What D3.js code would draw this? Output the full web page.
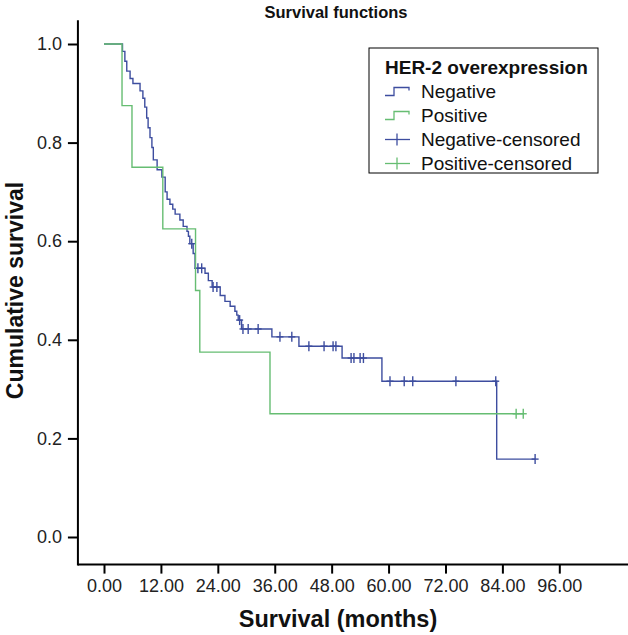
<!DOCTYPE html>
<html>
<head>
<meta charset="utf-8">
<script src="https://cdn.jsdelivr.net/npm/d3@7/dist/d3.min.js"></script>
<style>
  html, body { margin: 0; padding: 0; background: #fff; }
  svg { display: block; font-family: "Liberation Sans", Arial, sans-serif; }
</style>
</head>
<body>
<svg id="chart" width="628" height="635"></svg>
<script>
// ---- data ----
const xTicks = [0, 12, 24, 36, 48, 60, 72, 84, 96];
const yTicks = [0, 0.2, 0.4, 0.6, 0.8, 1.0];

// Negative group: event times (months) and survival after each event
const negTimes = [3.9, 4.4, 4.8, 5.5, 6.1, 7.6, 8.2, 8.6, 9.0, 9.3, 9.7, 10.1, 10.4, 11.2,
  12.2, 12.9, 13.3, 13.9, 14.5, 15.0, 16.0, 16.7, 17.5, 17.8, 18.1, 18.8, 19.2, 21.3, 22.0,
  22.8, 24.5, 25.5, 26.6, 27.6, 28.0, 28.3, 29.0, 35.4, 41.1, 50.2, 58.6, 82.8];
const negSurv = [0.985, 0.965, 0.945, 0.93, 0.92, 0.905, 0.89, 0.872, 0.85, 0.83, 0.81, 0.79, 0.765, 0.745,
  0.73, 0.70, 0.685, 0.675, 0.665, 0.655, 0.643, 0.63, 0.62, 0.61, 0.595, 0.575, 0.545, 0.535, 0.52,
  0.507, 0.49, 0.478, 0.468, 0.458, 0.45, 0.44, 0.422, 0.406, 0.387, 0.363, 0.316, 0.158];
const negCensored = [18.5, 19.8, 20.6, 23.0, 23.8, 28.6, 29.3, 30.4, 32.5, 37.1, 39.6,
  43.2, 46.4, 48.3, 48.9, 52.1, 52.7, 54.0, 54.7, 60.3, 63.3, 65.1, 74.2, 82.6, 90.9];

// Positive group
const posTimes = [3.8, 5.9, 12.4, 19.3, 20.2, 35.0];
const posSurv = [0.875, 0.75, 0.625, 0.5, 0.375, 0.25];
const posCensored = [86.9, 88.4];

const legendLabels = ["Negative", "Positive", "Negative-censored", "Positive-censored"];
const colors = { neg: "#3d4d9f", pos: "#66bd72" };

// ---- scales ----
const svg = d3.select("#chart");
const x = d3.scaleLinear().domain([0, 96]).range([104, 559.3]);
const y = d3.scaleLinear().domain([0, 1]).range([537, 44]);
const xMin = -5.5, xMax = 110.5, yMin = -0.056, yMax = 1.048;

function survAt(times, surv, t) {
  let s = 1;
  for (let i = 0; i < times.length; i++) if (times[i] <= t) s = surv[i];
  return s;
}
function stepPoints(times, surv, censored) {
  const pts = [[0, 1]];
  let s = 1;
  times.forEach((t, i) => { pts.push([t, s]); s = surv[i]; pts.push([t, s]); });
  const end = Math.max(times[times.length - 1], d3.max(censored));
  pts.push([end, s]);
  return pts;
}

const line = d3.line().x(d => x(d[0])).y(d => y(d[1]));

// ---- axes ----
const xAxisY = y(yMin);
const yAxisX = x(xMin);
const xAxis = d3.axisBottom(x).tickValues(xTicks).tickFormat(d3.format(".2f")).tickSize(9).tickPadding(6);
const gx = svg.append("g").attr("transform", `translate(0,${xAxisY})`).call(xAxis);
gx.select(".domain").remove();
gx.append("line").attr("x1", yAxisX).attr("x2", x(xMax)).attr("y1", 0).attr("y2", 0)
  .attr("stroke", "#000").attr("stroke-width", 2);
gx.selectAll(".tick line").attr("stroke", "#000").attr("stroke-width", 2);
gx.selectAll(".tick text").attr("font-size", 18).attr("fill", "#222")
  .attr("font-family", "Liberation Sans, Arial, sans-serif");

const yAxis = d3.axisLeft(y).tickValues(yTicks).tickFormat(d3.format(".1f")).tickSize(10).tickPadding(6);
const gy = svg.append("g").attr("transform", `translate(${yAxisX},0)`).call(yAxis);
gy.select(".domain").remove();
gy.append("line").attr("x1", 0).attr("x2", 0).attr("y1", y(yMax)).attr("y2", xAxisY + 1)
  .attr("stroke", "#000").attr("stroke-width", 2);
gy.selectAll(".tick line").attr("stroke", "#000").attr("stroke-width", 2);
gy.selectAll(".tick text").attr("font-size", 18).attr("fill", "#222")
  .attr("font-family", "Liberation Sans, Arial, sans-serif");

// ---- curves ----
function drawGroup(times, surv, censored, color) {
  const g = svg.append("g");
  g.append("path").datum(stepPoints(times, surv, censored))
    .attr("d", line).attr("fill", "none").attr("stroke", color).attr("stroke-width", 1.4);
  censored.forEach(t => {
    const cx = x(t), cy = y(survAt(times, surv, t));
    g.append("line").attr("x1", cx).attr("x2", cx).attr("y1", cy - 5).attr("y2", cy + 5)
      .attr("stroke", color).attr("stroke-width", 1.4);
    g.append("line").attr("x1", cx - 3.5).attr("x2", cx + 3.5).attr("y1", cy).attr("y2", cy)
      .attr("stroke", color).attr("stroke-width", 1.4);
  });
}
drawGroup(negTimes, negSurv, negCensored, colors.neg);
drawGroup(posTimes, posSurv, posCensored, colors.pos);

// ---- titles ----
svg.append("text").attr("x", 336).attr("y", 18).attr("text-anchor", "middle")
  .attr("font-size", 16.5).attr("font-weight", "bold").attr("fill", "#111").text("Survival functions");
svg.append("text").attr("x", 338).attr("y", 627).attr("text-anchor", "middle")
  .attr("font-size", 23.5).attr("font-weight", "bold").attr("fill", "#111").text("Survival (months)");
svg.append("text").attr("transform", `translate(23,${y(0.5)}) rotate(-90)`).attr("text-anchor", "middle")
  .attr("font-size", 23).attr("font-weight", "bold").attr("fill", "#111").text("Cumulative survival");

// ---- legend ----
const lg = svg.append("g");
const lx = 369, ly = 48, lw = 229, rowH = 24;
lg.append("rect").attr("x", lx).attr("y", ly).attr("width", lw).attr("height", 125)
  .attr("fill", "#fff").attr("stroke", "#000").attr("stroke-width", 1);
lg.append("text").attr("x", 385).attr("y", 73.5).attr("font-size", 19).attr("font-weight", "bold")
  .attr("fill", "#111").text("HER-2 overexpression");
const legendColors = [colors.neg, colors.pos, colors.neg, colors.pos];
legendLabels.forEach((lab, i) => {
  const cy = 91.5 + i * rowH;
  if (i < 2) {
    lg.append("path").attr("d", `M385,${cy + 4}H394V${cy - 4}H409V${cy - 1}`)
      .attr("fill", "none").attr("stroke", legendColors[i]).attr("stroke-width", 1.3);
  } else {
    lg.append("line").attr("x1", 385).attr("x2", 410).attr("y1", cy).attr("y2", cy)
      .attr("stroke", legendColors[i]).attr("stroke-width", 1.3);
    lg.append("line").attr("x1", 397).attr("x2", 397).attr("y1", cy - 6).attr("y2", cy + 6)
      .attr("stroke", legendColors[i]).attr("stroke-width", 1.3);
  }
  lg.append("text").attr("x", 421).attr("y", cy + 6.5).attr("font-size", 19).attr("fill", "#111").text(lab);
});
</script>
</body>
</html>
